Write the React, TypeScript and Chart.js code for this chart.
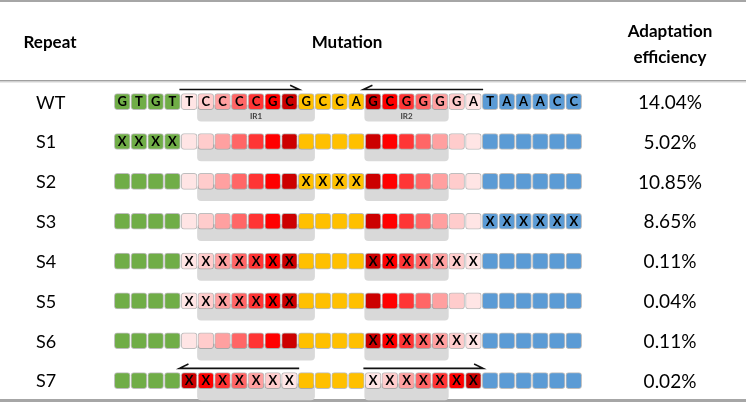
import React, { useEffect, useRef } from 'react';
import { Chart, registerables } from 'chart.js';

Chart.register(...registerables);

// ---------- data ----------
const repeats = ['WT', 'S1', 'S2', 'S3', 'S4', 'S5', 'S6', 'S7'];
const efficiencyLabels = ['14.04%', '5.02%', '10.85%', '8.65%', '0.11%', '0.04%', '0.11%', '0.02%'];
const wtSequence = ['G', 'T', 'G', 'T', 'T', 'C', 'C', 'C', 'C', 'G', 'C', 'G', 'C', 'C', 'A', 'G', 'C', 'G', 'G', 'G', 'G', 'A', 'T', 'A', 'A', 'A', 'C', 'C'];
// segment kinds along the repeat: g = green flank, r0..r6 = IR shades (light->dark), y = spacer, b = blue flank
const segmentKinds = ['g', 'g', 'g', 'g', 'r0', 'r1', 'r2', 'r3', 'r4', 'r5', 'r6', 'y', 'y', 'y', 'y', 'r6', 'r5', 'r4', 'r3', 'r2', 'r1', 'r0', 'b', 'b', 'b', 'b', 'b', 'b'];
const mutatedCells = [
  [],
  [0, 1, 2, 3],
  [11, 12, 13, 14],
  [22, 23, 24, 25, 26, 27],
  [4, 5, 6, 7, 8, 9, 10, 15, 16, 17, 18, 19, 20, 21],
  [4, 5, 6, 7, 8, 9, 10],
  [15, 16, 17, 18, 19, 20, 21],
  [4, 5, 6, 7, 8, 9, 10, 15, 16, 17, 18, 19, 20, 21],
];
const invertedRows = [7];
const irRegions = [[4, 10], [15, 21]];
const irBands = [
  { label: 'IR1', start: 5, end: 12 },
  { label: 'IR2', start: 15, end: 20 },
];
// arrow direction per IR region, for rows that show arrows (1 = right, -1 = left)
const arrowRows = [
  { row: 0, dirs: [1, -1] },
  { row: 7, dirs: [-1, 1] },
];

// ---------- styles ----------
const palette: Record<string, string> = {
  g: '#70AD47',
  y: '#FFC000',
  b: '#5B9BD5',
  r0: '#FFE5E5',
  r1: '#FFCCCC',
  r2: '#FFA0A0',
  r3: '#FF6666',
  r4: '#FF3535',
  r5: '#FF0000',
  r6: '#CC0000',
};
const FONT = 'Lato, "Open Sans", "DejaVu Sans", sans-serif';
const W = 746;
const H = 402;
const CELL0 = 113.3;
const PITCH = 16.76;
const ROW0 = 101.3;
const ROWPITCH = 40;

function cellColor(row: number, i: number): string {
  let kind = segmentKinds[i];
  if (invertedRows.includes(row)) {
    for (const [a, b] of irRegions) {
      if (i >= a && i <= b) kind = segmentKinds[a + b - i];
    }
  }
  return palette[kind];
}

export default function App() {
  const ref = useRef<HTMLCanvasElement | null>(null);

  useEffect(() => {
    document.body.style.margin = '0';
    const canvas = ref.current;
    if (!canvas) return;

    const cellData: any[] = [];
    const cellColors: string[] = [];
    const cellTexts: string[] = [];
    repeats.forEach((_, r) => {
      for (let i = 0; i < wtSequence.length; i++) {
        cellData.push({ x: [i + 0.03, i + 0.97], y: r });
        cellColors.push(cellColor(r, i));
        const mutated = mutatedCells[r].includes(i);
        cellTexts.push(mutated ? 'X' : r === 0 ? wtSequence[i] : '');
      }
    });

    const bandOffset = 11.4 / ROWPITCH;
    const bandData: any[] = [];
    repeats.forEach((_, r) => {
      irBands.forEach((b) => bandData.push({ x: [b.start, b.end], y: r + bandOffset }));
    });

    const arrowSets: any[] = [];
    const arrowOffset = -12.3 / ROWPITCH;
    const over = 0.08;
    const barbX = 0.54;
    const barbY = 4.3 / ROWPITCH;
    arrowRows.forEach(({ row, dirs }) => {
      irRegions.forEach(([a, b], k) => {
        const y = row + arrowOffset;
        const left = a - over;
        const right = b + 1 + over;
        const dir = dirs[k];
        const tail = dir > 0 ? left : right;
        const tip = dir > 0 ? right : left;
        arrowSets.push({
          type: 'line',
          data: [
            { x: tail, y },
            { x: tip, y },
            { x: tip - dir * barbX, y: y - barbY },
          ],
          borderColor: '#111',
          borderWidth: 1.6,
          pointRadius: 0,
          fill: false,
          tension: 0,
          order: 1,
        });
      });
    });

    const decor = {
      id: 'decor',
      beforeDatasetsDraw(chart: any) {
        const ctx = chart.ctx;
        ctx.save();
        ctx.fillStyle = '#A6A6A6';
        ctx.fillRect(0, 0, W, 2);
        ctx.fillStyle = '#A0A0A0';
        ctx.fillRect(0, 80, W, 1.5);
        ctx.fillStyle = '#D4D4D4';
        ctx.fillRect(0, 81.5, W, 1);
        ctx.fillStyle = '#A6A6A6';
        ctx.fillRect(0, 399, W, 3);

        ctx.fillStyle = '#000';
        ctx.textAlign = 'center';
        ctx.textBaseline = 'alphabetic';
        ctx.font = `bold 17px ${FONT}`;
        ctx.fillText('Repeat', 50, 48);
        ctx.fillText('Mutation', 347, 48);
        ctx.fillText('Adaptation', 670, 37);
        ctx.fillText('efficiency', 670, 63);
        ctx.restore();
      },
      afterDatasetsDraw(chart: any) {
        const ctx = chart.ctx;
        const xs = chart.scales.x;
        const ys = chart.scales.y;
        ctx.save();
        // letters / X in cells
        const meta = chart.getDatasetMeta(0);
        ctx.fillStyle = '#000';
        ctx.textAlign = 'center';
        ctx.textBaseline = 'middle';
        ctx.font = `bold 13px ${FONT}`;
        meta.data.forEach((el: any, k: number) => {
          const t = cellTexts[k];
          if (!t) return;
          const p = el.getCenterPoint();
          ctx.fillText(t, p.x, p.y + 0.5);
        });
        // IR labels on the WT row
        ctx.font = `bold 8px ${FONT}`;
        ctx.fillStyle = '#404040';
        irBands.forEach((b) => {
          ctx.fillText(b.label, xs.getPixelForValue((b.start + b.end) / 2), ys.getPixelForValue(0) + 15);
        });
        // row labels and efficiency values
        ctx.fillStyle = '#000';
        repeats.forEach((name, r) => {
          const y = ys.getPixelForValue(r) + 1;
          ctx.font = `18px ${FONT}`;
          ctx.textAlign = 'left';
          ctx.fillText(name, 36, y);
          ctx.font = `19px ${FONT}`;
          ctx.textAlign = 'center';
          ctx.fillText(efficiencyLabels[r], 670, y);
        });
        ctx.restore();
      },
    };

    const chart = new Chart(canvas, {
      type: 'bar',
      data: {
        datasets: [
          {
            type: 'bar',
            indexAxis: 'y',
            data: cellData,
            backgroundColor: cellColors,
            borderColor: 'rgba(110,110,110,0.45)',
            borderWidth: 1,
            borderRadius: 3,
            borderSkipped: false,
            barThickness: 16,
            grouped: false,
            order: 0,
          } as any,
          ...arrowSets,
          {
            type: 'bar',
            indexAxis: 'y',
            data: bandData,
            backgroundColor: '#D9D9D9',
            borderWidth: 0,
            borderRadius: 4,
            borderSkipped: false,
            barThickness: 16,
            grouped: false,
            order: 2,
          } as any,
        ],
      },
      options: {
        responsive: false,
        devicePixelRatio: 1,
        animation: false,
        layout: { padding: 0 },
        plugins: { legend: { display: false }, tooltip: { enabled: false } },
        scales: {
          x: { type: 'linear', display: false, offset: false, min: -CELL0 / PITCH, max: (W - CELL0) / PITCH },
          y: { type: 'linear', display: false, offset: false, reverse: true, min: -ROW0 / ROWPITCH, max: (H - ROW0) / ROWPITCH },
        },
      },
      plugins: [decor],
    });

    let alive = true;
    if ((document as any).fonts && (document as any).fonts.load) {
      Promise.all([
        (document as any).fonts.load(`bold 17px Lato`),
        (document as any).fonts.load(`18px Lato`),
      ]).then(() => {
        if (alive) chart.update();
      }).catch(() => {});
    }

    return () => {
      alive = false;
      chart.destroy();
    };
  }, []);

  return (
    <div style={{ position: 'fixed', left: 0, top: 0, width: W, height: H, background: '#fff' }}>
      <canvas ref={ref} width={W} height={H} style={{ display: 'block', width: W, height: H }} />
    </div>
  );
}
